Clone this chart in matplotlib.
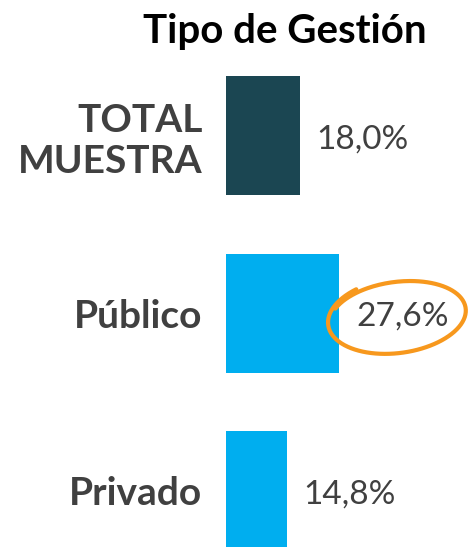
import numpy as np
import matplotlib.pyplot as plt

categories = ["TOTAL\nMUESTRA", "Público", "Privado"]
values = [18.0, 27.6, 14.8]
bar_colors = ["#1B4652", "#00AEEF", "#00AEEF"]
value_labels = ["18,0%", "27,6%", "14,8%"]
title = "Tipo de Gestión"

plt.rcParams['font.family'] = ['Lato', 'DejaVu Sans']

fig = plt.figure(figsize=(4.69, 5.47), dpi=100)
W, H = 469, 547
left_px, top_px = 226, 60
ax = fig.add_axes([left_px / W, 0, 1 - left_px / W, 1 - top_px / H])

px_per_unit = 4.1
y_pitch = 177.5
y = np.arange(len(values))
ax.barh(y, values, height=119 / y_pitch, color=bar_colors, align='center')
ax.set_xlim(0, (W - left_px) / px_per_unit)
ax.set_ylim((H - 135.5) / y_pitch, (top_px - 135.5) / y_pitch)

for i, (v, lab) in enumerate(zip(values, value_labels)):
    ax.text(v + 17 / px_per_unit, i + 0.02, lab, va='center', ha='left',
            fontsize=24, color='#404040')

ax.set_yticks(y)
ax.set_yticklabels(categories, fontsize=28, fontweight='bold', color='#404040',
                   linespacing=1.2)
ax.tick_params(axis='y', length=0, pad=17)
ax.set_xticks([])
for s in ax.spines.values():
    s.set_visible(False)

# hand-drawn loop around the Público value (built in pixels, mapped to data)
t = np.linspace(0.68 * np.pi, 2.85 * np.pi, 300)
a = 70 - 2 * (t - t[0]) / (t[-1] - t[0])
b = 38 - 4 * (t - t[0]) / (t[-1] - t[0])
th = np.deg2rad(7)
xp = a * np.cos(t) * np.cos(th) - b * np.sin(t) * np.sin(th)
yp = a * np.cos(t) * np.sin(th) + b * np.sin(t) * np.cos(th)
cx = 41.8
cy = 1.02
ax.plot(cx + xp / px_per_unit, cy - yp / y_pitch, color='#F7981D', lw=3,
        solid_capstyle='round', clip_on=False)

fig.text(285 / W, 1 - 31 / H, title, ha='center', va='center',
         fontsize=29, fontweight='bold', color='black')

fig.savefig('out.png', dpi=100)
